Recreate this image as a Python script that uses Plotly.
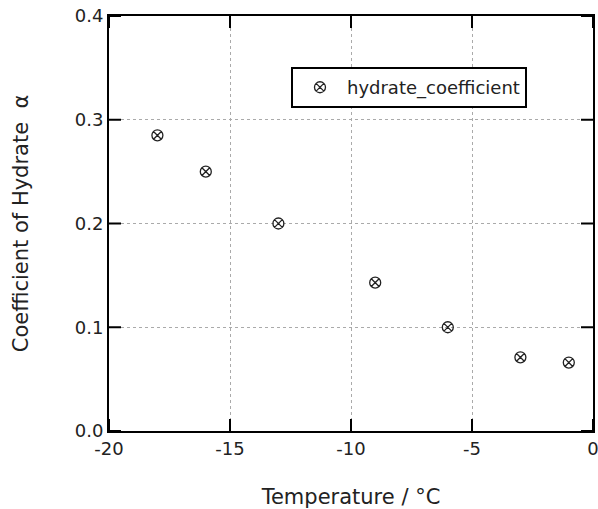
import plotly.graph_objects as go

temperature = [-18, -16, -13, -9, -6, -3, -1]
hydrate_coefficient = [0.285, 0.250, 0.200, 0.143, 0.100, 0.071, 0.066]
x_ticks = [-20, -15, -10, -5, 0]
y_ticks = [0.0, 0.1, 0.2, 0.3, 0.4]
y_tick_text = ["0.0", "0.1", "0.2", "0.3", "0.4"]
x_range = [-20, 0]
y_range = [0, 0.4]

FONT = "DejaVu Sans"
TXT = "#222"
W, H = 598, 509
M = dict(l=109, r=5, t=16, b=78)
TICK_LEN = 12

fig = go.Figure()
fig.add_trace(go.Scatter(
    x=temperature, y=hydrate_coefficient, mode="markers",
    name="hydrate_coefficient",
    marker=dict(symbol="circle-x-open", size=11, color=TXT,
                line=dict(width=1.3, color=TXT)),
))

# inward tick marks on all four frame edges, built from the tick arrays
plot_w = W - M["l"] - M["r"]
plot_h = H - M["t"] - M["b"]
dx = (x_range[1] - x_range[0]) * TICK_LEN / plot_w
dy = (y_range[1] - y_range[0]) * TICK_LEN / plot_h
tx, ty = [], []
for xv in x_ticks:
    tx += [xv, xv, None, xv, xv, None]
    ty += [y_range[0], y_range[0] + dy, None, y_range[1], y_range[1] - dy, None]
for yv in y_ticks:
    tx += [x_range[0], x_range[0] + dx, None, x_range[1], x_range[1] - dx, None]
    ty += [yv, yv, None, yv, yv, None]
fig.add_trace(go.Scatter(x=tx, y=ty, mode="lines", line=dict(color="black", width=2),
                         showlegend=False, hoverinfo="skip"))

main_axis = dict(
    showline=True, linecolor="black", linewidth=2, mirror=True,
    ticks="", showgrid=True, gridcolor="#aaaaaa", griddash="dot", gridwidth=1,
    zeroline=False, automargin=False, ticklabeloverflow="allow",
    tickfont=dict(family=FONT, size=18, color=TXT),
)

fig.update_layout(
    width=W, height=H,
    margin=M,
    paper_bgcolor="white", plot_bgcolor="white",
    font=dict(family=FONT, color=TXT),
    showlegend=True,
    legend=dict(
        x=0.376, y=0.877, xanchor="left", yanchor="top",
        bordercolor="black", borderwidth=2, bgcolor="white",
        font=dict(family=FONT, size=18, color=TXT),
        itemwidth=44,
    ),
    xaxis=dict(
        range=x_range, tickvals=x_ticks, ticktext=[str(v) for v in x_ticks],
        title=dict(text="Temperature / °C", font=dict(family=FONT, size=21, color=TXT), standoff=32),
        **main_axis,
    ),
    yaxis=dict(
        range=y_range, tickvals=y_ticks, ticktext=y_tick_text,
        title=dict(text="Coefficient of Hydrate  α", font=dict(family=FONT, size=21, color=TXT), standoff=40),
        **main_axis,
    ),
)

fig.write_html("out.html")
